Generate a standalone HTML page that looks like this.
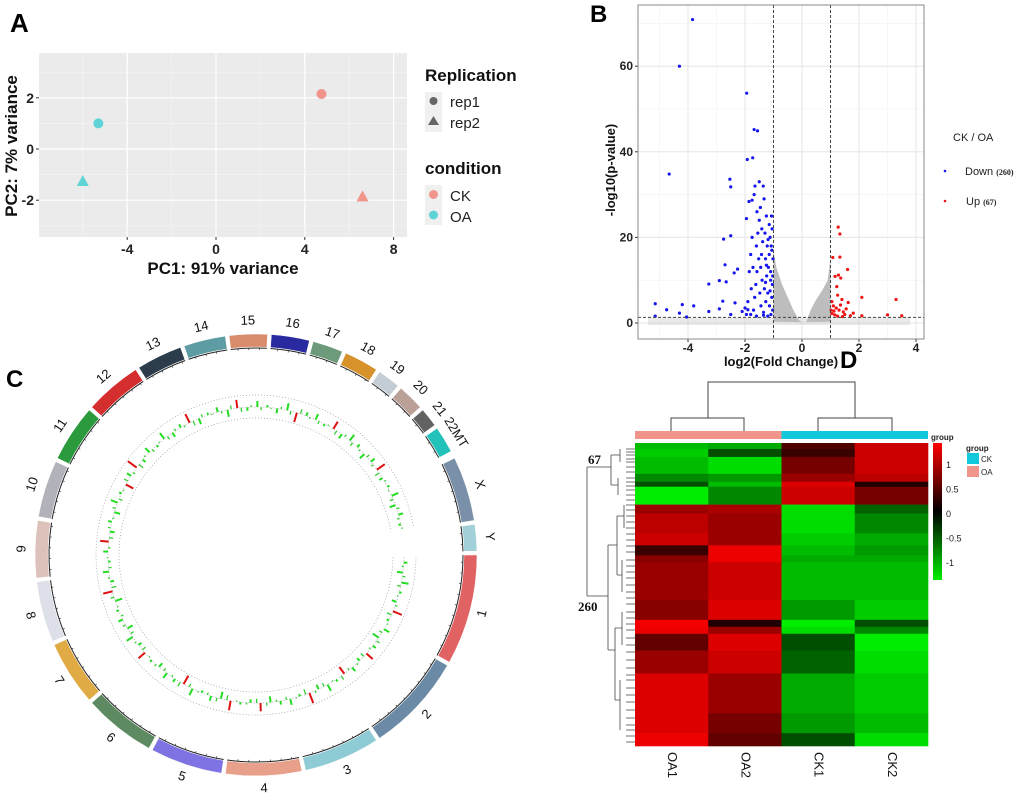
<!DOCTYPE html>
<html><head><meta charset="utf-8"><style>
html,body{margin:0;padding:0;background:#fff;}
svg{display:block;font-family:"Liberation Sans",sans-serif;}
</style></head><body>
<svg id="fig" width="1020" height="802" viewBox="0 0 1020 802" xmlns="http://www.w3.org/2000/svg">
<g id="pA"></g>
<g id="pB"></g>
<g id="pC"></g>
<g id="pD"></g>
</svg>
<script>
// ---------- Panel A data ----------
const pcaX = [-5.3, -6.0, 4.75, 6.6];
const pcaY = [1.0, -1.25, 2.15, -1.85];
const pcaCond = ["OA","OA","CK","CK"];
const pcaRep = ["rep1","rep2","rep1","rep2"];
const pcaXTicks = [-4,0,4,8];
const pcaYTicks = [-2,0,2];
// ---------- Panel B data ----------
const downX = [-3.84,-4.3,-1.94,-1.68,-1.56,-4.66,-1.92,-1.73,-2.53,-2.5,-2.75,-2.5,-2.7,-2.66,-2.9,-3.27,-2.38,-2.26,-1.95,-1.86,-1.75,-5.15,-4.75,-4.2,-3.8,-4.3,-5.15,-4.05,-3.27,-2.9,-2.78,-2.35,-2.5,-2.1,-1.9,
-1.05,-1.08,-1.02,-1.1,-1.04,-1.06,-1.03,-1.12,-1.15,-1.18,-1.1,-1.2,-1.14,-1.09,-1.25,-1.3,-1.22,-1.28,-1.24,-1.32,-1.27,-1.35,-1.38,-1.42,-1.45,-1.4,-1.48,-1.44,-1.5,-1.55,-1.6,-1.52,-1.58,-1.62,-1.66,-1.7,-1.65,-1.68,-1.36,-1.46,-1.58,-1.75,-1.8,-1.85,-1.78,-1.9,-1.95,-2.0,-1.72,-1.2,-1.35,-1.6,-1.8,-1.15,-1.07,-1.33,-1.5,-1.25,-1.12,-1.03,-1.06,-1.19,-1.41,-1.28];
const downY = [70.9,60,53.7,45.2,44.9,34.8,38.2,38.6,33.6,31.8,19.6,20.4,13.6,9.6,9.9,9.1,11.7,12.6,24.4,28.4,28.7,4.5,3.1,4.3,4.0,2.3,1.6,1.4,2.7,3.3,5.1,4.7,2.0,2.7,3.1,
22,18,15,12,9,6,3,20,16,13,10,7,4,2,25,21,18,15,11,8,5,2.5,19,16,13,10,7,4,24,21,18,15,12,9,6,3,32,30,32,27,26,20,16,12,8,5,2,3.5,13,1.6,1.8,1.6,2,23,25,29,33,13.5,7.5,11,17,19.5,22,9.5];
const upX = [1.27,1.33,1.33,1.08,1.6,1.28,1.16,1.36,1.22,1.25,1.4,2.1,3.3,3.5,3.0,2.1,1.7,1.05,1.1,1.2,1.3,1.45,1.05,1.15,1.5,1.35,1.55,1.02,1.25,1.42,1.8,1.62,1.12];
const upY = [22.4,20.8,15.4,15.3,12.5,11.2,10.9,10.5,8.5,6.5,5.5,6,5.5,1.7,1.9,1.7,1.7,5,4,3.5,3,2.6,2.2,1.9,2,4.2,3.3,3,1.6,1.5,2.3,4.8,2.8];
const nsLeftX = [-1,-1,-0.9,-0.7,-0.5,-0.3,-0.1,0];
const nsLeftY = [0.3,17,13,9,6,3,0.6,0.2];
const nsRightX = [0.15,0.3,0.5,0.7,0.9,1,1];
const nsRightY = [0.2,3,5.5,7.5,10,15,0.3];
const volXTicks = [-4,-2,0,2,4];
const volYTicks = [0,20,40,60];
// ---------- Panel C data ----------
const chrNames = ["1","2","3","4","5","6","7","8","9","10","11","12","13","14","15","16","17","18","19","20","21","22MT","X","Y"];
const chrStart = [90,120,147,168,189,209,229,247,264,280,296,312,328,341,353,364,375,384,394,401,409,415,424,442];
const chrEnd   = [119,146,167,188,208,228,246,263,279,295,311,327,340,352,363,374,383,393,400,408,414,422,441,449];
const chrColors = ["#e06262","#6b8aa6","#8fcbd4","#e8a08a","#7f72e2","#5e8a62","#e0aa44","#dde0e8","#dcc2ba","#b2b2ba","#2a9a3c","#d42e2e","#2c3c4a","#5c9ca2","#d88c6c","#2a2aa0","#6c9a7a","#d8922c","#c4ccd4","#baa096","#626262","#22c2ba","#7a90a8","#a2d0d8"];
const trackVals = [3,-5,6,2,-4,8,-2,5,-6,3,7,-3,4,-7,2,6,-4,9,-2,5,3,-5,7,-3,2,8,-6,4,-2,6,-8,3,5,-4,2,7,-3,6,-5,4,2,-6,8,-3,5,-2,4,7,-4,3,-5,6,2,-7,4,9,-3,5,-2,6,-4,3,8,-5,2,4,-6,7,-3,5,2,-4,6,-8,3,5,-2,7,-4,6,3,-5,4,8,-3,2,6,-5,4,-2];
// ---------- Panel D data ----------
const hmCols = ["OA1","OA2","CK1","CK2"];
const hmRowCounts = [6,8,17,8,5,18, 9,20,12,10,7,38,20,7,7,17,23,40,20,13];
const hmOA1 = [-0.9,-1.0,-0.9,-0.6,-0.3,-1.2, 0.7,0.9,1.0,0.2,0.6,0.7,0.6,1.3,1.2,0.4,0.7,1.1,1.1,1.2];
const hmOA2 = [-0.8,-0.3,-1.1,-0.7,-0.9,-0.6, 0.8,0.7,0.7,1.2,1.2,1.0,1.1,0.1,0.7,1.1,1.0,0.7,0.5,0.4];
const hmCK1 = [0.3,0.2,0.5,0.7,1.1,1.0, -1.1,-1.1,-1.0,-0.9,-0.8,-0.9,-0.7,-1.2,-1.1,-0.3,-0.4,-0.8,-0.7,-0.3];
const hmCK2 = [1.0,1.0,1.0,0.9,0.1,0.5, -0.4,-0.6,-0.8,-0.7,-0.8,-0.9,-1.0,-0.3,-0.6,-1.2,-1.1,-1.0,-0.9,-1.1];
const cbTicks = [1,0.5,0,-0.5,-1];

const NS="http://www.w3.org/2000/svg";
function mk(parent,tag,attrs,text){const e=document.createElementNS(NS,tag);for(const k in attrs)e.setAttribute(k,attrs[k]);if(text!==undefined)e.textContent=text;parent.appendChild(e);return e;}

// ===== Panel A =====
(function(){
const g=document.getElementById('pA');
const L=39,R=407,T=53,B=237;
const xs=v=>216+v*22.2, ys=v=>149-v*25.6;
let t=mk(g,'text',{x:10,y:32,'font-size':26,'font-weight':'bold'},'A');

let bg=mk(g,'rect',{x:L,y:T,width:R-L,height:B-T,fill:'#ebebeb'});

[-6,-2,2,6].forEach(v=>mk(g,'line',{x1:xs(v),x2:xs(v),y1:T,y2:B,stroke:'#f6f6f6','stroke-width':0.6}));
[-3,-1,1,3].forEach(v=>mk(g,'line',{y1:ys(v),y2:ys(v),x1:L,x2:R,stroke:'#f6f6f6','stroke-width':0.6}));
pcaXTicks.forEach(v=>{mk(g,'line',{x1:xs(v),x2:xs(v),y1:T,y2:B,stroke:'#fff','stroke-width':1.2});
 mk(g,'line',{x1:xs(v),x2:xs(v),y1:B,y2:B+3,stroke:'#333'});
 const tl=mk(g,'text',{x:xs(v),y:B+17,'font-size':14,'font-weight':'bold','text-anchor':'middle',fill:'#222'},v);
 });
pcaYTicks.forEach(v=>{mk(g,'line',{y1:ys(v),y2:ys(v),x1:L,x2:R,stroke:'#fff','stroke-width':1.2});
 mk(g,'line',{y1:ys(v),y2:ys(v),x1:L-3,x2:L,stroke:'#333'});
 const tl=mk(g,'text',{x:L-5,y:ys(v)+5,'font-size':14,'font-weight':'bold','text-anchor':'end',fill:'#222'},v);
 });
const col={CK:'#f1958c',OA:'#5fd3d6'};
for(let i=0;i<pcaX.length;i++){
 const cx=xs(pcaX[i]),cy=ys(pcaY[i]);let m;
 if(pcaRep[i]==='rep1')m=mk(g,'circle',{cx,cy,r:5,fill:col[pcaCond[i]]});
 else m=mk(g,'polygon',{points:`${cx},${cy-6} ${cx-6},${cy+5} ${cx+6},${cy+5}`,fill:col[pcaCond[i]]});
 }
t=mk(g,'text',{x:223,y:274,'font-size':17,'font-weight':'bold','text-anchor':'middle',fill:'#111'},'PC1: 91% variance');

t=mk(g,'text',{x:0,y:0,'font-size':17,'font-weight':'bold','text-anchor':'middle',fill:'#111',transform:'translate(17,146) rotate(-90)'},'PC2: 7% variance');

t=mk(g,'text',{x:425,y:81,'font-size':17,'font-weight':'bold',fill:'#111'},'Replication');

mk(g,'rect',{x:425,y:92,width:17,height:40,fill:'#f0f0f0'});
mk(g,'circle',{cx:433.5,cy:101,r:4,fill:'#666'});
mk(g,'polygon',{points:'433.5,116 428,125 439,125',fill:'#666'});
t=mk(g,'text',{x:450,y:107,'font-size':15,fill:'#222'},'rep1');
t=mk(g,'text',{x:450,y:128,'font-size':15,fill:'#222'},'rep2');
t=mk(g,'text',{x:425,y:174,'font-size':17,'font-weight':'bold',fill:'#111'},'condition');

mk(g,'rect',{x:425,y:185,width:17,height:40,fill:'#f0f0f0'});
mk(g,'circle',{cx:433.5,cy:194.5,r:4.5,fill:col.CK});
mk(g,'circle',{cx:433.5,cy:215,r:4.5,fill:col.OA});
t=mk(g,'text',{x:450,y:201,'font-size':15,fill:'#222'},'CK');
t=mk(g,'text',{x:450,y:222,'font-size':15,fill:'#222'},'OA');
})();

// ===== Panel B =====
(function(){
const g=document.getElementById('pB');
const L=638,R=924,T=5,B=339;
const xs=v=>802+v*28.5, ys=v=>323-v*4.28;
let t=mk(g,'text',{x:590,y:22,'font-size':24,'font-weight':'bold'},'B');

[-5,-3,-1,1,3].forEach(v=>mk(g,'line',{x1:xs(v),x2:xs(v),y1:T,y2:B,stroke:'#f2f2f2','stroke-width':0.6}));
[10,30,50,70].forEach(v=>mk(g,'line',{y1:ys(v),y2:ys(v),x1:L,x2:R,stroke:'#f2f2f2','stroke-width':0.6}));
volXTicks.forEach(v=>{mk(g,'line',{x1:xs(v),x2:xs(v),y1:T,y2:B,stroke:'#e6e6e6','stroke-width':1});
 mk(g,'line',{x1:xs(v),x2:xs(v),y1:B,y2:B+3,stroke:'#333'});
 const tl=mk(g,'text',{x:xs(v),y:B+13,'font-size':12,'font-weight':'bold','text-anchor':'middle',fill:'#222'},v);
 });
volYTicks.forEach(v=>{mk(g,'line',{y1:ys(v),y2:ys(v),x1:L,x2:R,stroke:'#e6e6e6','stroke-width':1});
 mk(g,'line',{y1:ys(v),y2:ys(v),x1:L-3,x2:L,stroke:'#333'});
 const tl=mk(g,'text',{x:L-5,y:ys(v)+4,'font-size':12,'font-weight':'bold','text-anchor':'end',fill:'#222'},v);
 });
let band=mk(g,'rect',{x:xs(-5.4),y:ys(1.3),width:xs(3.8)-xs(-5.4),height:ys(0)-ys(1.3)+2,fill:'#cfcfcf',opacity:0.45});

let p1=mk(g,'polygon',{points:nsLeftX.map((x,i)=>xs(x)+','+ys(nsLeftY[i])).join(' '),fill:'#bdbdbd'});

let p2=mk(g,'polygon',{points:nsRightX.map((x,i)=>xs(x)+','+ys(nsRightY[i])).join(' '),fill:'#bdbdbd'});

for(let i=0;i<downX.length;i++){const c=mk(g,'circle',{cx:xs(downX[i]),cy:ys(downY[i]),r:1.6,fill:'#1515ee'});
 }
for(let i=0;i<upX.length;i++){const c=mk(g,'circle',{cx:xs(upX[i]),cy:ys(upY[i]),r:1.6,fill:'#ee1515'});
 }
[-1,1].forEach(v=>mk(g,'line',{x1:xs(v),x2:xs(v),y1:T,y2:B,stroke:'#444','stroke-dasharray':'3,2'}));
mk(g,'line',{x1:L,x2:R,y1:ys(1.3),y2:ys(1.3),stroke:'#444','stroke-dasharray':'3,2'});
let fr=mk(g,'rect',{x:L,y:T,width:R-L,height:B-T,fill:'none',stroke:'#888','stroke-width':1});

t=mk(g,'text',{x:781,y:366,'font-size':13,'font-weight':'bold','text-anchor':'middle',fill:'#111'},'log2(Fold Change)');

t=mk(g,'text',{x:0,y:0,'font-size':13,'font-weight':'bold','text-anchor':'middle',fill:'#111',transform:'translate(615,170) rotate(-90)'},'-log10(p-value)');

t=mk(g,'text',{x:953,y:141,'font-size':11,fill:'#222'},'CK / OA');
mk(g,'circle',{cx:945,cy:171,r:1.3,fill:'#1515ee'});
mk(g,'circle',{cx:945,cy:201,r:1.3,fill:'#ee1515'});
t=mk(g,'text',{x:965,y:175,'font-size':11,fill:'#222'});t.innerHTML='Down <tspan font-family="Liberation Serif" font-size="8" font-weight="bold">(260)</tspan>';

t=mk(g,'text',{x:966,y:205,'font-size':11,fill:'#222'});t.innerHTML='Up <tspan font-family="Liberation Serif" font-size="8" font-weight="bold">(67)</tspan>';

})();

// ===== Panel C =====
(function(){
const g=document.getElementById('pC');
const cx=256,cy=555,R0=208,R1=221;
const pt=(a,r)=>{const rad=(a-90)*Math.PI/180;return [cx+r*Math.cos(rad),cy+r*Math.sin(rad)];};
function arc(a0,a1,r0,r1){const [x1,y1]=pt(a0,r1),[x2,y2]=pt(a1,r1),[x3,y3]=pt(a1,r0),[x4,y4]=pt(a0,r0);const lg=(a1-a0)>180?1:0;
 return `M${x1},${y1} A${r1},${r1} 0 ${lg} 1 ${x2},${y2} L${x3},${y3} A${r0},${r0} 0 ${lg} 0 ${x4},${y4} Z`;}
let t=mk(g,'text',{x:6,y:387,'font-size':24,'font-weight':'bold'},'C');

for(let i=0;i<chrNames.length;i++){
 const p=mk(g,'path',{d:arc(chrStart[i],chrEnd[i],R0,R1),fill:chrColors[i],stroke:'#fff','stroke-width':0.5});
 
 const [a,b]=pt(chrStart[i],R0-1),[c,d]=pt(chrEnd[i],R0-1);
 mk(g,'path',{d:`M${a},${b} A${R0-1},${R0-1} 0 0 1 ${c},${d}`,fill:'none',stroke:'#222','stroke-width':1});
 for(let k=chrStart[i]+2;k<chrEnd[i];k+=3){const [u,v]=pt(k,R0-1),[w,z]=pt(k,R0-3);mk(g,'line',{x1:u,y1:v,x2:w,y2:z,stroke:'#222','stroke-width':0.6});}
 const mid=(chrStart[i]+chrEnd[i])/2;const [lx,ly]=pt(mid,R1+13);
 const m360=((mid%360)+360)%360;const rot=(m360>90&&m360<270)?m360-180:mid;
 const lab=mk(g,'text',{x:lx,y:ly,'font-size':13,'text-anchor':'middle','dominant-baseline':'middle',fill:'#111',transform:`rotate(${rot} ${lx} ${ly})`},chrNames[i]);
 
}
const a0=91,a1=440,rBase=148;
[137,148,160].forEach(r=>{const [x1,y1]=pt(a0,r),[x2,y2]=pt(a1,r);
 mk(g,'path',{d:`M${x1},${y1} A${r},${r} 0 1 1 ${x2},${y2}`,fill:'none',stroke:'#999','stroke-width':0.7,'stroke-dasharray':'1,2'});});
const n=trackVals.length;
for(let i=0;i<n;i++){
 const a=a0+(a1-a0)*(i+0.5)/n;const v=trackVals[i];
 const [x1,y1]=pt(a,rBase),[x2,y2]=pt(a,rBase+v*1.2);
 const m=mk(g,'line',{x1,y1,x2,y2,stroke:(Math.abs(v)>6?'#dd1111':'#22dd22'),'stroke-width':2});
 
 const [x3,y3]=pt(a+1.5,rBase),[x4,y4]=pt(a+1.5,rBase-v*0.6);
 mk(g,'line',{x1:x3,y1:y3,x2:x4,y2:y4,stroke:'#33cc33','stroke-width':1.3});
}
})();

// ===== Panel D =====
(function(){
const g=document.getElementById('pD');
const L=635,R=928,T=443,B=746;const cw=(R-L)/4;
let t=mk(g,'text',{x:840,y:368,'font-size':24,'font-weight':'bold'},'D');

function color(v){const tt=Math.min(1,Math.abs(v)/1.25);const c=Math.round(245*Math.pow(tt,0.8));return v>=0?`rgb(${c},0,0)`:`rgb(0,${c},0)`;}
const total=hmRowCounts.reduce((a,b)=>a+b,0);const rh=(B-T)/total;
const cols=[hmOA1,hmOA2,hmCK1,hmCK2];let y=T;
for(let i=0;i<hmRowCounts.length;i++){const h=hmRowCounts[i]*rh;
 for(let j=0;j<4;j++){const c=mk(g,'rect',{x:L+j*cw,y:y,width:cw+0.3,height:h+0.3,fill:color(cols[j][i])});
  }
 y+=h;}
let gb=mk(g,'rect',{x:L,y:431,width:2*cw,height:8,fill:'#f0948c'});
gb=mk(g,'rect',{x:L+2*cw,y:431,width:2*cw,height:8,fill:'#12c8dc'});
t=mk(g,'text',{x:931,y:440,'font-size':8,'font-weight':'bold',fill:'#222'},'group');
const cd=mk(g,'path',{d:`M671,431 V418 H744 V431 M818,431 V418 H892 V431 M708,418 V382 H855 V418`,fill:'none',stroke:'#444','stroke-width':1});

let d='M587,467 V596 M587,467 H611 M587,596 H608 M611,455 V485 M608,545 V650 ';
d+='M611,455 H620 M611,485 H618 M620,449 V462 M618,478 V495 M608,545 H617 M608,650 H615 M617,516 V575 M615,628 V700 M617,516 H624 M617,575 H622 M615,628 H622 M615,700 H620 M624,505 V528 M622,560 V592 M622,612 V645 M620,680 V730 ';
let ys=[449,452,455,459,462,467,472,478,482,486,490,495,500,505,510,516,522,528,534,540,546,552,560,566,572,578,585,592,598,604,612,618,624,630,638,645,652,660,668,675,680,688,695,702,710,718,725,730,736,742];
ys.forEach(v=>{d+=`M626,${v} H635 `;});
const rd=mk(g,'path',{d:d,fill:'none',stroke:'#444','stroke-width':0.8});

t=mk(g,'text',{x:588,y:464,'font-size':13,'font-weight':'bold','font-family':'Liberation Serif',fill:'#111'},'67');
t=mk(g,'text',{x:578,y:611,'font-size':13,'font-weight':'bold','font-family':'Liberation Serif',fill:'#111'},'260');
const grad=mk(g,'linearGradient',{id:'cb',x1:0,y1:0,x2:0,y2:1});
[[0,'#ff0000'],[0.5,'#000'],[1,'#00ee00']].forEach(s=>mk(grad,'stop',{offset:s[0],'stop-color':s[1]}));
const cb=mk(g,'rect',{x:933,y:443,width:9,height:137,fill:'url(#cb)'});
const cbY=v=>513-v*49;
cbTicks.forEach(v=>{const tl=mk(g,'text',{x:946,y:cbY(v)+4,'font-size':9,fill:'#222'},v);});
t=mk(g,'text',{x:966,y:451,'font-size':8,'font-weight':'bold',fill:'#222'},'group');
mk(g,'rect',{x:967,y:453,width:12,height:11,fill:'#12c8dc'});
mk(g,'rect',{x:967,y:466,width:12,height:11,fill:'#f0948c'});
t=mk(g,'text',{x:981,y:462,'font-size':8,fill:'#222'},'CK');
t=mk(g,'text',{x:981,y:475,'font-size':8,fill:'#222'},'OA');
hmCols.forEach((c,j)=>{const x=L+cw*(j+0.5);const tl=mk(g,'text',{x:x,y:752,'font-size':13,fill:'#111',transform:`rotate(90 ${x} 752)`,'dominant-baseline':'middle'},c);
 });
})();
</script>
</body></html>
